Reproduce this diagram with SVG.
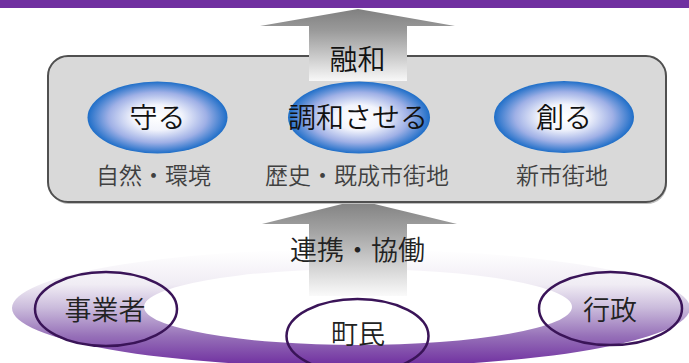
<svg xmlns="http://www.w3.org/2000/svg" width="689" height="363" viewBox="0 0 689 363">
<defs>
<linearGradient id="ringG" gradientUnits="userSpaceOnUse" x1="0" y1="250" x2="0" y2="365">
<stop offset="0" stop-color="#ffffff"/>
<stop offset="0.3" stop-color="#f0ecf4"/>
<stop offset="0.5" stop-color="#cbbcdc"/>
<stop offset="0.75" stop-color="#9670b8"/>
<stop offset="1" stop-color="#7030a0"/>
</linearGradient>
<linearGradient id="arrowTop" gradientUnits="userSpaceOnUse" x1="0" y1="9" x2="0" y2="81">
<stop offset="0" stop-color="#808080"/>
<stop offset="0.3" stop-color="#9a9a9a"/>
<stop offset="1" stop-color="#f8f8f8"/>
</linearGradient>
<linearGradient id="arrowBot" gradientUnits="userSpaceOnUse" x1="0" y1="200" x2="0" y2="296">
<stop offset="0" stop-color="#808080"/>
<stop offset="0.3" stop-color="#a0a0a0"/>
<stop offset="1" stop-color="#fafafa"/>
</linearGradient>
<radialGradient id="blueG" cx="0.5" cy="0.5" r="0.5">
<stop offset="0" stop-color="#ffffff"/>
<stop offset="0.35" stop-color="#f2f4fc"/>
<stop offset="0.7" stop-color="#9fb0e6"/>
<stop offset="1" stop-color="#1e6ec8"/>
</radialGradient>
</defs>
<style>
.jp{font-family:"Noto Sans CJK JP","Noto Sans",sans-serif;text-anchor:middle;font-weight:350}
.big{font-size:28px;fill:#111}
.lab{font-size:23px;fill:#404040}
.mid{font-size:27px;fill:#222}
.node{fill:none;stroke:#3a1458;stroke-width:2.5}
.blue{fill:url(#blueG)}
</style>
<rect x="0" y="0" width="689" height="8" fill="#7030a0"/>
<g id="connectors">
<path d="M12,308 a339,59 0 1,0 678,0 a339,59 0 1,0 -678,0 Z M144,307 a214,38 0 1,0 428,0 a214,38 0 1,0 -428,0 Z" fill="url(#ringG)" fill-rule="evenodd"/>
<path d="M358,200 L457,224 L407,224 L407,296 L309,296 L309,224 L262,224 Z" fill="url(#arrowBot)"/>
</g>
<g id="box">
<rect x="49" y="58" width="618" height="146" rx="20" fill="#bfbfbf"/>
<rect x="48" y="56" width="618" height="146" rx="20" fill="#d9d9d9" stroke="#505050" stroke-width="2"/>
</g>
<g id="arrow-top">
<path d="M358,9 L455,26 L407,26 L407,81 L309,81 L309,26 L260,26 Z" fill="url(#arrowTop)"/>
<text class="jp big" x="357.5" y="70">融和</text>
</g>
<g id="mamoru">
<ellipse class="blue" cx="157.5" cy="117.5" rx="70" ry="36"/>
<text class="jp big" x="157.5" y="128">守る</text>
<text class="jp lab" x="153.5" y="184">自然・環境</text>
</g>
<g id="chowa">
<ellipse class="blue" cx="359" cy="117.5" rx="71" ry="36"/>
<text class="jp big" x="358" y="128">調和させる</text>
<text class="jp lab" x="357" y="184">歴史・既成市街地</text>
</g>
<g id="tsukuru">
<ellipse class="blue" cx="564" cy="117" rx="70" ry="36"/>
<text class="jp big" x="564" y="128">創る</text>
<text class="jp lab" x="562" y="184">新市街地</text>
</g>
<g id="renkei">
<text class="jp mid" x="357.5" y="260">連携・協働</text>
</g>
<g id="jigyosha">
<ellipse class="node" cx="106" cy="309" rx="71" ry="37"/>
<text class="jp mid" x="105" y="320">事業者</text>
</g>
<g id="chomin">
<ellipse class="node" cx="357.5" cy="336" rx="71" ry="37"/>
<text class="jp mid" x="358" y="344">町民</text>
</g>
<g id="gyosei">
<ellipse class="node" cx="610.5" cy="308.5" rx="71.5" ry="36.5"/>
<text class="jp mid" x="610" y="320">行政</text>
</g>
</svg>
